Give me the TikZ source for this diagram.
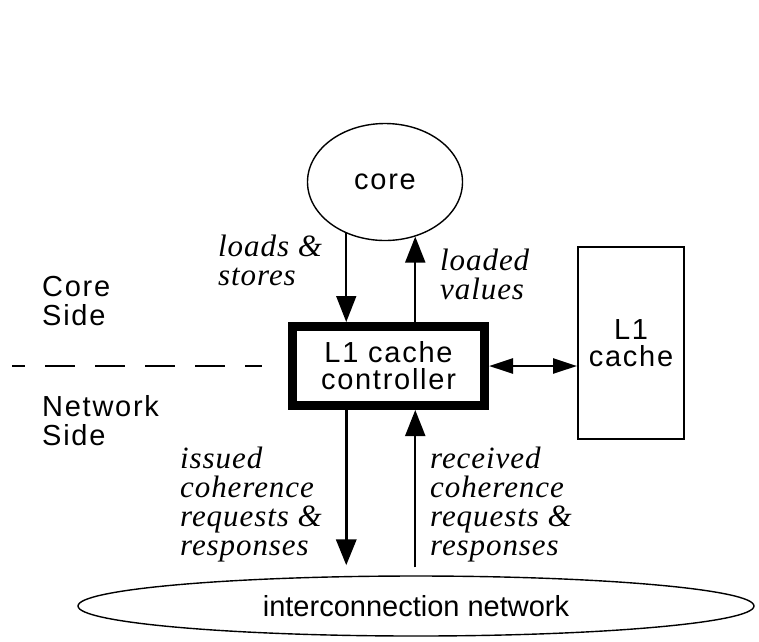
\documentclass[tikz,border=0pt]{standalone}
\usepackage{fontspec}
\setmainfont{Liberation Serif}
\setsansfont{Liberation Sans}
\newfontfamily\widesf[LetterSpace=6]{Liberation Sans}
\newfontfamily\wideit[LetterSpace=3]{Liberation Serif}
\usetikzlibrary{arrows.meta,positioning,shapes.geometric}

\begin{document}
\begin{tikzpicture}[x=1pt, y=-1pt,
  unit/.style={draw, align=center, inner sep=0pt,
    font=\widesf\fontsize{29}{27}\selectfont},
  lbl/.style={anchor=north west, inner sep=0pt, align=left,
    font=\wideit\itshape\fontsize{31}{29}\selectfont},
  side/.style={anchor=north west, inner sep=0pt, align=left,
    font=\widesf\fontsize{29}{29}\selectfont},
  arr/.style={-{Triangle[length=26pt, width=20pt]}, line width=1.6pt},
  darr/.style={{Triangle[length=24pt, width=15pt]}-{Triangle[length=24pt, width=15pt]}, line width=2.5pt},
  divider/.style={line width=2pt, dash pattern=on 30pt off 20pt, dash phase=17pt}
]
\useasboundingbox (0,0) rectangle (759,641);
\node[unit, ellipse, line width=1.4pt, minimum width=155pt, minimum height=117pt] (core) at (385,182) {core};
\node[unit, line width=9pt, minimum width=192pt, minimum height=79pt] (ctrl) at (388.5,366) {L1 cache\\controller};
\node[unit, line width=2pt, minimum width=106pt, minimum height=192pt] (l1) at (631,343) {L1\\cache};
\node[unit, ellipse, line width=1.4pt, minimum width=676pt, minimum height=60pt,
  font=\sffamily\fontsize{29}{30}\selectfont] (net) at (416,606) {interconnection network};

% side labels
\node[side] (cs) at (42,276) {Core\\Side};
\node[side] (ns) at (42,395) {Network\\Side};
\draw[divider] ([xshift=-276pt]ctrl.west) -- ([xshift=-26pt]ctrl.west);

% core side
\draw[arr] (core.233) -- (core.233 |- ctrl.north);
\draw[arr, line width=2pt] (core.299 |- ctrl.north) -- (core.299);
\node[lbl] (ls) at (218,235) {loads \&\\stores};
\node[lbl] (lv) at (440,249) {loaded\\values};

% network side
\draw[arr, line width=3.5pt, shorten >=10pt] (core.233 |- ctrl.south) -- (core.233 |- net.north);
\draw[arr, line width=2pt, shorten <=8pt] (core.299 |- net.north) -- (core.299 |- ctrl.south);
\node[lbl] (iss) at (180,447) {issued\\coherence\\requests \&\\responses};
\node[lbl] (rcv) at (430,447) {received\\coherence\\requests \&\\responses};

\draw[darr] (ctrl.east) -- (ctrl.east -| l1.west);
\end{tikzpicture}
\end{document}
